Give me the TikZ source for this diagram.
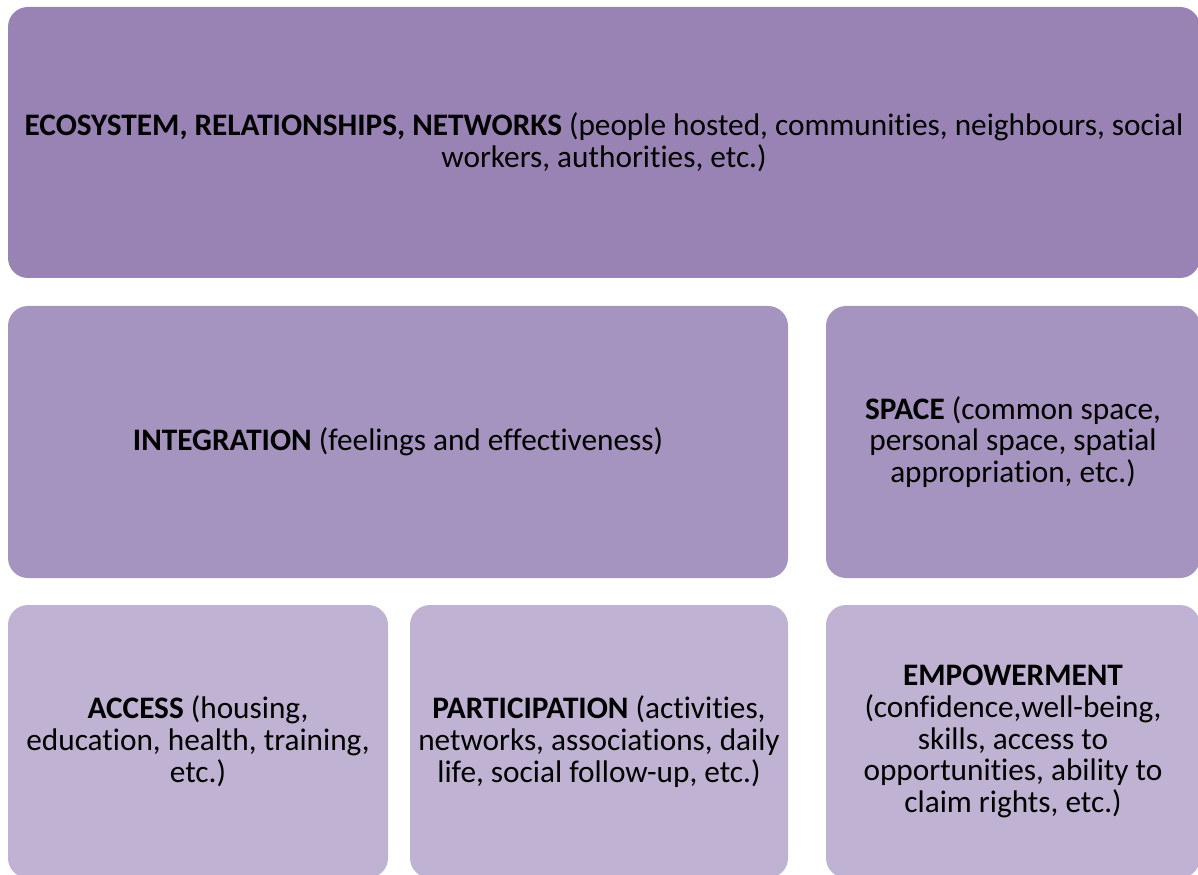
\documentclass[tikz,border=0pt]{standalone}
\usepackage{fontspec}
\setmainfont{Carlito}[Ligatures=NoCommon]
\usetikzlibrary{positioning}
\definecolor{darklav}{RGB}{153,131,180}
\definecolor{midlav}{RGB}{165,147,192}
\definecolor{lightlav}{RGB}{191,178,210}

\begin{document}
\begin{tikzpicture}
	\useasboundingbox (0,0) rectangle (23.96,-17.5);
	\begin{scope}[every node/.style={rounded corners=0.4cm,inner sep=0pt,align=center,
			font=\fontsize{17.8}{18.1}\selectfont}]
		\node[fill=darklav,minimum width=23.84cm,minimum height=5.42cm] (eco) at (12.08,-2.85)
			{\textbf{ECOSYSTEM, RELATIONSHIPS, NETWORKS} (people hosted, communities, neighbours, social\\workers, authorities, etc.)};
		\node[fill=midlav,minimum width=15.6cm,minimum height=5.44cm] (integ) at (7.96,-8.84)
			{\textbf{INTEGRATION} (feelings and effectiveness)};
		\node[fill=midlav,minimum width=7.48cm,minimum height=5.44cm] (space) at (20.26,-8.84)
			{\textbf{SPACE} (common space,\\personal space, spatial\\appropriation, etc.)};
		\node[fill=lightlav,minimum width=7.6cm,minimum height=5.46cm] (access) at (3.96,-14.83)
			{\textbf{ACCESS} (housing,\\education, health, training,\\etc.)};
		\node[fill=lightlav,minimum width=7.56cm,minimum height=5.46cm] (partic) at (11.98,-14.83)
			{\textbf{PARTICIPATION} (activities,\\networks, associations, daily\\life, social follow-up, etc.)};
		\node[fill=lightlav,minimum width=7.48cm,minimum height=5.46cm] (empow) at (20.26,-14.83)
			{\textbf{EMPOWERMENT}\\(confidence,well-being,\\skills, access to\\opportunities, ability to\\claim rights, etc.)};
	\end{scope}
\end{tikzpicture}
\end{document}
